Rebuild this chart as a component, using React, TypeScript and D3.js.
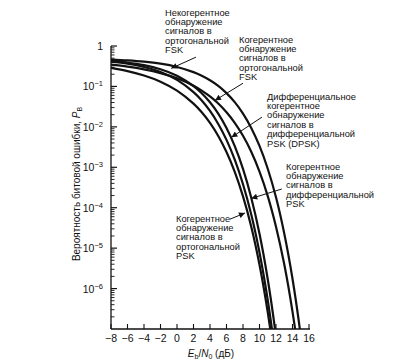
import React from "react";
import * as d3 from "d3";

// Eb/N0, dB
const snrDb = [-8, -6, -4, -2, 0, 2, 3, 4, 5, 6, 7, 8, 9, 10, 11, 12, 13, 14, 15, 16];

// bit error probability (null = curve already below the axis)
const cohPsk = [0.287, 0.239, 0.186, 0.131, 0.0786, 0.0375, 0.0229, 0.0125, 0.00595, 0.00239, 7.7e-4, 1.9e-4, 3.4e-5, 3.9e-6, 2.6e-7, 9e-9, null, null, null, null];
const cohDiffPsk = [0.409, 0.364, 0.303, 0.228, 0.145, 0.0722, 0.0448, 0.0247, 0.0118, 0.00477, 1.54e-3, 3.8e-4, 6.8e-5, 7.8e-6, 5.2e-7, 1.8e-8, null, null, null, null];
const dpsk = [0.427, 0.389, 0.336, 0.266, 0.184, 0.1025, 0.068, 0.0405, 0.0212, 0.00933, 0.00333, 9.1e-4, 1.77e-4, 2.27e-5, 1.7e-6, 6.5e-8, 1.1e-9, null, null, null];
const cohFsk = [0.345, 0.308, 0.264, 0.2135, 0.1587, 0.104, 0.079, 0.0565, 0.0377, 0.023, 0.0126, 0.006, 0.00242, 7.8e-4, 1.94e-4, 3.4e-5, 4.0e-6, 2.7e-7, 9.4e-9, null];
const noncohFsk = [0.462, 0.441, 0.41, 0.365, 0.303, 0.226, 0.184, 0.142, 0.103, 0.0683, 0.0408, 0.0213, 0.00943, 0.00337, 9.2e-4, 1.81e-4, 2.3e-5, 1.75e-6, 6.8e-8, 1.2e-9];

const curves = [cohPsk, cohDiffPsk, dpsk, cohFsk, noncohFsk];

const xTicks = [-8, -6, -4, -2, 0, 2, 4, 6, 8, 10, 12, 14, 16];
const yDecades = [0, -1, -2, -3, -4, -5, -6];

// annotations: text lines, arrow tail and head in data units [dB, P]
const notes = [
  { lines: ["Некогерентное", "обнаружение", "сигналов в", "ортогональной", "FSK"], at: [165, 15.5], tail: [2.3, 0.53], head: [-0.7, 0.28] },
  { lines: ["Когерентное", "обнаружение", "сигналов в", "ортогональной", "FSK"], at: [239, 42.5], tail: [8.0, 0.12], head: [4.6, 0.045] },
  { lines: ["Дифференциальное", "когерентное", "обнаружение", "сигналов в", "дифференциальной", "PSK (DPSK)"], at: [267, 99.5], tail: [10.3, 0.0174], head: [6.6, 0.0055] },
  { lines: ["Когерентное", "обнаружение", "сигналов в", "дифференциальной", "PSK"], at: [286, 169.5], tail: [12.7, 2.9e-4], head: [9.0, 1.7e-4] },
  { lines: ["Когерентное", "обнаружение", "сигналов в", "ортогональной", "PSK"], at: [176, 221.5], tail: [6.42, 5.2e-5], head: [8.24, 7.4e-5] },
];

const W = 415;
const H = 361;
const font = "'Liberation Sans', Arial, sans-serif";

export default function App() {
  const x = d3.scaleLinear().domain([-8, 16]).range([111, 309]);
  const y = d3.scaleLog().domain([1e-7, 1]).range([329, 46]);

  const line = d3
    .line<[number, number | null]>()
    .defined((d) => d[1] != null)
    .x((d) => x(d[0]))
    .y((d) => y(d[1] as number))
    .curve(d3.curveCatmullRom);

  const minor: number[] = [];
  for (let e = -7; e < 0; e++) {
    for (let m = 2; m <= 9; m++) minor.push(m * Math.pow(10, e));
  }

  return (
    <svg width={W} height={H} style={{ position: "absolute", left: 0, top: 0, background: "#fff" }} fontFamily={font}>
      <defs>
        <clipPath id="plot">
          <rect x={111} y={40} width={198} height={289} />
        </clipPath>
        <marker id="head" viewBox="0 0 10 10" refX={10} refY={5} markerWidth={7} markerHeight={6} markerUnits="userSpaceOnUse" orient="auto">
          <path d="M0,0 L10,5 L0,10 z" fill="#111" />
        </marker>
      </defs>

      {/* axes */}
      <line x1={111} x2={111} y1={y(1)} y2={329} stroke="#111" strokeWidth={1.3} />
      <line x1={111} x2={310} y1={329} y2={329} stroke="#111" strokeWidth={1.3} />

      {yDecades.map((e) => (
        <g key={e}>
          <line x1={111} x2={117} y1={y(Math.pow(10, e))} y2={y(Math.pow(10, e))} stroke="#111" strokeWidth={1.2} />
          <text x={103} y={y(Math.pow(10, e)) + 4} textAnchor="end" fontSize={10.5} fill="#111">
            {e === 0 ? "1" : (
              <>
                10
                <tspan dy={-4} fontSize={7.5}>{"−" + -e}</tspan>
              </>
            )}
          </text>
        </g>
      ))}
      {minor.map((v, i) => (
        <line key={i} x1={111} x2={114.5} y1={y(v)} y2={y(v)} stroke="#111" strokeWidth={0.9} />
      ))}

      {xTicks.map((t) => (
        <g key={t}>
          <line x1={x(t)} x2={x(t)} y1={329} y2={324} stroke="#111" strokeWidth={1.1} />
          <text x={x(t)} y={342} textAnchor="middle" fontSize={10.5} fill="#111">
            {t < 0 ? "−" + -t : String(t)}
          </text>
        </g>
      ))}

      <text x={211} y={357} textAnchor="middle" fontSize={10} fill="#111">
        <tspan fontStyle="italic">E</tspan>
        <tspan fontSize={7} dy={2}>b</tspan>
        <tspan dy={-2}>/</tspan>
        <tspan fontStyle="italic">N</tspan>
        <tspan fontSize={7} dy={2}>0</tspan>
        <tspan dy={-2}> (дБ)</tspan>
      </text>

      <text transform="translate(80,184) rotate(-90)" textAnchor="middle" fontSize={10} fill="#111">
        Вероятность битовой ошибки,{" "}
        <tspan fontStyle="italic">P</tspan>
        <tspan fontSize={7} dy={2}>B</tspan>
      </text>

      {/* curves */}
      <g clipPath="url(#plot)" fill="none" stroke="#111" strokeWidth={2.2}>
        {curves.map((c, i) => (
          <path key={i} d={line(snrDb.map((s, j) => [s, c[j]] as [number, number | null])) || ""} />
        ))}
      </g>

      {/* annotations */}
      {notes.map((n, i) => (
        <g key={i}>
          <text x={n.at[0]} y={n.at[1]} fontSize={9.3} fill="#111">
            {n.lines.map((l, k) => (
              <tspan key={k} x={n.at[0]} dy={k === 0 ? 0 : 9.4}>{l}</tspan>
            ))}
          </text>
          <line
            x1={x(n.tail[0])}
            y1={y(n.tail[1])}
            x2={x(n.head[0])}
            y2={y(n.head[1])}
            stroke="#111"
            strokeWidth={1}
            markerEnd="url(#head)"
          />
        </g>
      ))}
    </svg>
  );
}
